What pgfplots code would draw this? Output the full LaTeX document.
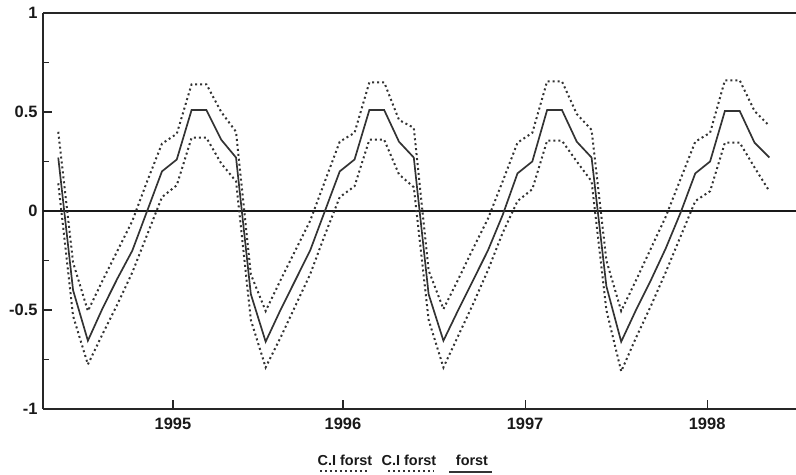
\documentclass[border=0pt]{standalone}
\usepackage{pgfplots}
\usepackage{pgfplotstable}
\pgfplotsset{compat=1.18}
\usepackage{fontspec}
\setmainfont{Liberation Sans}
\pgfplotstableread{
m f up lo
0 0.27 0.40 0.14
1 -0.40 -0.26 -0.53
2 -0.655 -0.505 -0.775
3 -0.49 -0.35 -0.62
4 -0.34 -0.20 -0.47
5 -0.20 -0.05 -0.31
6 0.00 0.15 -0.12
7 0.20 0.34 0.07
8 0.26 0.39 0.13
9 0.51 0.64 0.37
10 0.51 0.64 0.37
11 0.36 0.50 0.24
12 0.27 0.40 0.15
13 -0.42 -0.32 -0.55
14 -0.66 -0.505 -0.79
15 -0.50 -0.35 -0.64
16 -0.35 -0.20 -0.48
17 -0.20 -0.05 -0.32
18 0.00 0.15 -0.12
19 0.20 0.35 0.07
20 0.26 0.395 0.125
21 0.51 0.65 0.36
22 0.51 0.65 0.36
23 0.35 0.46 0.185
24 0.27 0.42 0.12
25 -0.42 -0.30 -0.55
26 -0.655 -0.495 -0.79
27 -0.50 -0.345 -0.63
28 -0.35 -0.19 -0.47
29 -0.20 -0.04 -0.30
30 -0.02 0.15 -0.11
31 0.19 0.345 0.05
32 0.25 0.395 0.11
33 0.51 0.655 0.355
34 0.51 0.655 0.355
35 0.35 0.49 0.25
36 0.27 0.41 0.15
37 -0.38 -0.25 -0.50
38 -0.66 -0.505 -0.81
39 -0.50 -0.35 -0.64
40 -0.35 -0.19 -0.48
41 -0.19 -0.03 -0.31
42 -0.01 0.16 -0.13
43 0.19 0.35 0.05
44 0.25 0.395 0.10
45 0.505 0.66 0.345
46 0.505 0.66 0.345
47 0.345 0.505 0.22
48 0.27 0.43 0.10
}\data
\begin{document}
\begin{tikzpicture}
\path[use as bounding box] (0,0) rectangle (796bp,475bp);
\begin{axis}[
  at={(43bp,66bp)}, anchor=south west,
  width=753bp, height=396bp, scale only axis,
  xmin=-1.03, xmax=49.8, ymin=-1, ymax=1,
  separate axis lines,
  axis x line*=box, axis y line*=left,
  axis line style={line width=1.5pt, black!85},
  xtick={7.745,19.22,31.51,43.8},
  xticklabels={1995,1996,1997,1998},
  ytick={-1,-0.5,0,0.5,1},
  yticklabels={-1,-0.5,0,0.5,1},
  minor ytick={-0.75,-0.25,0.25,0.75},
  xtick pos=lower, ytick pos=left,
  tick align=inside,
  major tick length=9bp, minor tick length=6bp,
  every tick/.style={line width=1.1pt, black!85},
  ticklabel style={font=\fontsize{16.5}{19}\selectfont\bfseries, black!90},
  xticklabel style={yshift=-6bp},
  yticklabel style={xshift=-2bp},
]
\addplot[black!90, line width=2pt] coordinates {(-1.03,0) (49.8,0)};
\addplot[black!80, line width=2pt, dash pattern=on 2pt off 3pt] table[x=m, y=up] {\data};
\addplot[black!80, line width=2pt, dash pattern=on 2pt off 3pt] table[x=m, y=lo] {\data};
\addplot[black!80, line width=1.7pt] table[x=m, y=f] {\data};
\end{axis}
\begin{scope}[every node/.style={inner sep=0pt, anchor=base, font=\fontsize{14.5}{17}\selectfont\bfseries, black!90}]
\node at (345bp,10bp) {C.I forst};
\node at (409bp,10bp) {C.I forst};
\node at (472bp,10bp) {forst};
\draw[black!80, line width=1.6pt, dash pattern=on 2pt off 3pt] (320bp,4bp) -- (368bp,4bp);
\draw[black!80, line width=1.6pt, dash pattern=on 2pt off 3pt] (388bp,4bp) -- (434bp,4bp);
\draw[black!80, line width=1.6pt] (449bp,3bp) -- (492bp,3bp);
\end{scope}
\end{tikzpicture}
\end{document}
